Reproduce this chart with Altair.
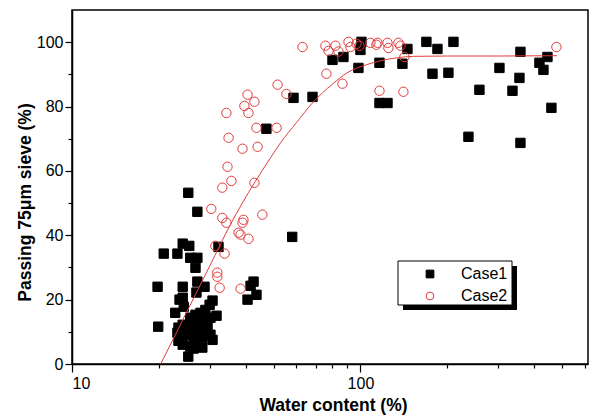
import altair as alt
import pandas as pd

# Case 1 samples: water content (%) and passing 75 um sieve (%)
case1_water = [
    100.8, 100.0, 145.5, 169.3, 184.9, 210.1, 80.0, 87.3, 98.4, 116.4,
    139.8, 177.7, 201.8, 303.3, 358.6, 355.8, 417.4, 444.9, 430.9, 258.5,
    336.5, 68.2, 58.6, 116.4, 124.1, 459.2, 236.8, 358.6, 47.2, 58.0,
    25.3, 27.2, 24.2, 25.5, 20.8, 23.2, 25.7, 27.2, 26.8, 32.2,
    19.8, 24.2, 27.2, 28.8, 27.0, 42.6, 41.6, 43.6, 40.6, 24.2,
    24.4, 23.6, 22.8, 19.9,
    30.7, 30.0, 29.0, 27.9, 26.8, 25.7, 31.7, 30.2, 28.3, 27.2,
    26.2, 25.1, 24.2, 23.4, 29.5, 27.9, 26.4, 25.1, 23.8, 23.2,
    30.2, 30.7, 28.3, 26.4, 24.2, 25.7, 28.3, 23.4, 26.4, 25.3,
]
case1_passing = [
    100.1, 97.6, 97.9, 100.1, 97.9, 100.1, 94.5, 95.4, 92.0, 93.6,
    93.3, 90.2, 90.5, 92.0, 97.0, 88.9, 93.6, 95.4, 91.4, 85.2,
    84.9, 83.0, 82.7, 81.1, 81.1, 79.6, 70.6, 68.7, 73.1, 39.5,
    53.2, 47.3, 37.4, 36.7, 34.3, 34.3, 33.0, 33.0, 29.9, 36.4,
    24.0, 24.0, 25.6, 24.0, 22.2, 25.6, 24.3, 21.5, 20.0, 20.6,
    17.8, 20.0, 15.9, 11.6,
    19.7, 18.4, 16.8, 15.9, 15.3, 14.4, 15.0, 14.4, 13.1, 12.8,
    12.2, 11.6, 12.2, 11.3, 11.3, 10.0, 9.7, 9.1, 8.5, 9.7,
    9.1, 7.5, 8.2, 6.9, 6.0, 5.4, 5.1, 7.2, 4.8, 2.3,
]

# Case 2 samples
case2_water = [
    30.4, 31.4, 31.9, 31.9, 32.5, 33.2, 33.2, 33.8, 34.3, 34.3,
    34.6, 34.9, 35.7, 37.8, 38.4, 38.4, 39.0, 39.3, 39.0, 39.6,
    40.6, 40.9, 40.9, 42.9, 42.9, 43.6, 44.0, 45.7, 51.2, 51.6,
    55.4, 63.0, 75.6, 76.2, 77.5, 81.9, 83.9, 86.6, 90.9, 92.3,
    96.9, 99.2, 108.3, 113.6, 114.5, 116.4, 124.1, 125.0, 135.4, 137.6,
    140.9, 142.0, 477.9,
]
case2_passing = [
    48.2, 36.7, 28.4, 27.1, 23.7, 54.8, 45.4, 34.3, 78.0, 43.9,
    61.3, 70.3, 56.9, 40.8, 40.2, 23.4, 66.9, 44.8, 43.9, 80.2,
    83.7, 78.0, 38.9, 81.5, 56.3, 73.4, 67.5, 46.4, 73.4, 86.8,
    83.9, 98.5, 98.9, 90.2, 97.3, 98.9, 97.1, 87.1, 100.1, 98.5,
    99.5, 98.9, 99.8, 99.2, 99.8, 84.9, 99.8, 98.2, 99.8, 98.9,
    84.6, 95.4, 98.5,
]

# Fitted trend curve
fit_water = [20.3, 25.0, 30.0, 35.4, 42.9, 48.8, 52.8, 60.0, 68.0, 80.0,
             90.0, 105.0, 117.0, 135.0, 153.0, 200.0, 300.0, 480.0]
fit_passing = [0.0, 16.2, 30.4, 43.3, 56.3, 64.1, 68.7, 75.0, 81.0, 87.0,
               90.5, 93.0, 94.2, 95.2, 95.6, 95.7, 95.7, 95.8]

x_major = [10, 100]
x_minor = [20, 30, 40, 50, 60, 70, 80, 90, 200, 300, 400, 500, 600]
y_major = [0, 20, 40, 60, 80, 100]
y_minor = [10, 30, 50, 70, 90]

RED = "#e23b3b"
FONT = "Liberation Sans"

points = pd.DataFrame({
    "water": case1_water + case2_water,
    "passing": case1_passing + case2_passing,
    "series": ["Case1"] * len(case1_water) + ["Case2"] * len(case2_water),
})
fit = pd.DataFrame({"water": fit_water, "passing": fit_passing})

x_scale = alt.Scale(type="log", domain=[10, 615], nice=False)
y_scale = alt.Scale(domain=[0, 110], nice=False, zero=False)
series_domain = ["Case1", "Case2"]

scatter = alt.Chart(points).mark_point(size=88, strokeWidth=1, opacity=1).encode(
    x=alt.X("water:Q", scale=x_scale,
            axis=alt.Axis(values=x_major, orient="bottom", tickSize=8, labelPadding=3,
                          format="d", title="Water content (%)",
                          titleX=261, titleY=41, titleBaseline="middle")),
    y=alt.Y("passing:Q", scale=y_scale,
            axis=alt.Axis(values=y_major, orient="left", tickSize=7, labelPadding=2,
                          title="Passing 75\u03bcm sieve (%)",
                          titleX=-47, titleY=192, titleBaseline="middle")),
    shape=alt.Shape("series:N", scale=alt.Scale(domain=series_domain, range=["square", "circle"]),
                    legend=alt.Legend(title=None)),
    stroke=alt.Stroke("series:N", scale=alt.Scale(domain=series_domain, range=["black", RED]),
                      legend=alt.Legend(title=None)),
    fill=alt.Fill("series:N", scale=alt.Scale(domain=series_domain, range=["black", "transparent"]),
                  legend=alt.Legend(title=None)),
)

curve = alt.Chart(fit).mark_line(color=RED, strokeWidth=1, interpolate="monotone").encode(
    x=alt.X("water:Q", scale=x_scale,
            axis=alt.Axis(values=x_minor, orient="bottom", tickSize=4, labels=False,
                          domain=False, title=None)),
    y=alt.Y("passing:Q", scale=y_scale,
            axis=alt.Axis(values=y_minor, orient="left", tickSize=4, labels=False,
                          domain=False, title=None)),
)

# legend frame with its drop shadow
box = pd.DataFrame({"k": [0]})
shadow = alt.Chart(box).mark_rect(color="black").encode(
    x=alt.value(331), x2=alt.value(445), y=alt.value(256), y2=alt.value(300)
)
frame = alt.Chart(box).mark_rect(fill="white", stroke="black", strokeWidth=1).encode(
    x=alt.value(326), x2=alt.value(440), y=alt.value(251), y2=alt.value(295)
)

chart = alt.layer(shadow, frame, scatter, curve).resolve_axis(
    x="independent", y="independent"
).properties(
    width=516, height=354,
    autosize=alt.AutoSizeParams(type="none"),
    padding={"left": 72, "top": 10, "right": 6, "bottom": 53},
).configure_view(
    stroke="black", strokeWidth=1.5
).configure_axis(
    domainColor="black", domainWidth=1.5, tickColor="black", tickWidth=1.2,
    labelFont=FONT, labelFontSize=16, labelColor="black",
    titleFont=FONT, titleFontSize=17.5, titleFontWeight="bold", titleColor="black",
    grid=False,
).configure_legend(
    orient="none", legendX=350, legendY=256, padding=0,
    symbolOffset=0, labelOffset=23, rowPadding=6,
    labelFont=FONT, labelFontSize=16, labelColor="black",
    symbolSize=60, symbolStrokeWidth=1,
)

chart.save("out.html", embed_options={"renderer": "svg", "actions": False})
